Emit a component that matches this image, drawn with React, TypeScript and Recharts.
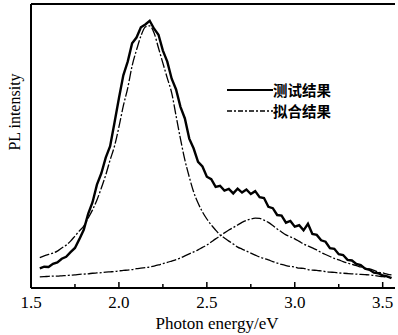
import React from 'react';
import { LineChart, Line, XAxis, YAxis, ReferenceLine } from 'recharts';

// photon energy (eV)
const energy = [
  1.55, 1.575, 1.6, 1.625, 1.65, 1.675, 1.7, 1.725, 1.75, 1.775,
  1.8, 1.825, 1.85, 1.875, 1.9, 1.925, 1.95, 1.975, 2.0, 2.025,
  2.05, 2.075, 2.1, 2.125, 2.15, 2.175, 2.2, 2.225, 2.25, 2.275,
  2.3, 2.325, 2.35, 2.375, 2.4, 2.425, 2.45, 2.475, 2.5, 2.525,
  2.55, 2.575, 2.6, 2.625, 2.65, 2.675, 2.7, 2.725, 2.75, 2.775,
  2.8, 2.825, 2.85, 2.875, 2.9, 2.925, 2.95, 2.975, 3.0, 3.025,
  3.05, 3.075, 3.1, 3.125, 3.15, 3.175, 3.2, 3.225, 3.25, 3.275,
  3.3, 3.325, 3.35, 3.375, 3.4, 3.425, 3.45, 3.475, 3.5, 3.525, 3.55,
];

// 测试结果
const measured = [
  0.069, 0.075, 0.074, 0.085, 0.09, 0.103, 0.11, 0.126, 0.141, 0.172,
  0.205, 0.261, 0.302, 0.364, 0.404, 0.459, 0.499, 0.583, 0.668, 0.749,
  0.797, 0.862, 0.882, 0.918, 0.928, 0.941, 0.913, 0.892, 0.836, 0.797,
  0.737, 0.699, 0.638, 0.597, 0.526, 0.491, 0.444, 0.428, 0.392, 0.383,
  0.356, 0.36, 0.343, 0.349, 0.333, 0.35, 0.336, 0.347, 0.331, 0.341,
  0.32, 0.317, 0.286, 0.281, 0.257, 0.255, 0.23, 0.236, 0.216, 0.221,
  0.203, 0.226, 0.19, 0.187, 0.168, 0.163, 0.14, 0.138, 0.119, 0.116,
  0.099, 0.097, 0.085, 0.081, 0.068, 0.064, 0.054, 0.052, 0.044, 0.041, 0.035,
];

// 拟合结果 - peak 1
const fit1 = [
  0.107, 0.113, 0.118, 0.123, 0.13, 0.141, 0.151, 0.165, 0.183, 0.201,
  0.218, 0.246, 0.275, 0.31, 0.352, 0.398, 0.451, 0.5, 0.567, 0.641,
  0.704, 0.782, 0.838, 0.887, 0.919, 0.923, 0.898, 0.845, 0.792, 0.739,
  0.687, 0.606, 0.525, 0.451, 0.391, 0.338, 0.299, 0.268, 0.243, 0.222,
  0.204, 0.187, 0.176, 0.165, 0.155, 0.144, 0.137, 0.13, 0.123, 0.116,
  0.109, 0.104, 0.099, 0.093, 0.088, 0.083, 0.079, 0.076, 0.074, 0.07,
  0.069, 0.065, 0.063, 0.062, 0.06, 0.058, 0.056, 0.055, 0.053, 0.052,
  0.051, 0.05, 0.049, 0.048, 0.047, 0.046, 0.044, 0.042, 0.04, 0.039, 0.037,
];

// 拟合结果 - peak 2
const fit2 = [
  0.039, 0.04, 0.041, 0.042, 0.042, 0.043, 0.044, 0.045, 0.046, 0.048,
  0.049, 0.05, 0.052, 0.053, 0.054, 0.056, 0.057, 0.058, 0.06, 0.062,
  0.063, 0.065, 0.068, 0.07, 0.072, 0.074, 0.077, 0.081, 0.086, 0.09,
  0.095, 0.1, 0.106, 0.113, 0.12, 0.127, 0.134, 0.143, 0.151, 0.162,
  0.173, 0.183, 0.194, 0.204, 0.213, 0.222, 0.231, 0.238, 0.243, 0.246,
  0.245, 0.239, 0.231, 0.22, 0.208, 0.197, 0.187, 0.18, 0.173, 0.164,
  0.155, 0.148, 0.141, 0.134, 0.125, 0.118, 0.111, 0.104, 0.099, 0.093,
  0.088, 0.083, 0.079, 0.074, 0.07, 0.067, 0.062, 0.056, 0.053, 0.049, 0.046,
];

const xTicks = [1.5, 1.75, 2.0, 2.25, 2.5, 2.75, 3.0, 3.25, 3.5];
const majorTicks = [1.5, 2.0, 2.5, 3.0, 3.5];

const data = energy.map((e, i) => ({
  e,
  measured: measured[i],
  fit1: fit1[i],
  fit2: fit2[i],
}));

const serif = '"Liberation Serif", "Times New Roman", serif';
const cjk = '"Noto Sans CJK SC", sans-serif';
const fitDash = '10 2 2 2';

const XTick = (props: any) => {
  const { x, y, payload } = props;
  const major = majorTicks.includes(payload.value);
  return (
    <g>
      <line x1={x} x2={x} y1={y} y2={y - (major ? 6 : 4)} stroke="#000" strokeWidth={1.5} />
      {major && (
        <text x={x} y={y + 20} textAnchor="middle" fontFamily={serif} fontSize={17} fill="#000">
          {payload.value.toFixed(1)}
        </text>
      )}
    </g>
  );
};

function LegendBox() {
  const row: React.CSSProperties = { display: 'flex', alignItems: 'center', height: 21 };
  return (
    <div
      style={{
        position: 'absolute',
        left: 227,
        top: 79,
        fontFamily: cjk,
        fontSize: 14.5,
        fontWeight: 700,
        color: '#000',
      }}
    >
      <div style={row}>
        <svg width={46} height={4}><line x1={0} x2={46} y1={2} y2={2} stroke="#000" strokeWidth={2} /></svg>
        <span>测试结果</span>
      </div>
      <div style={row}>
        <svg width={46} height={4}><line x1={0} x2={46} y1={2} y2={2} stroke="#000" strokeWidth={1.3} strokeDasharray="5 2 2 2" /></svg>
        <span>拟合结果</span>
      </div>
    </div>
  );
}

export default function App() {
  return (
    <div style={{ position: 'absolute', left: 0, top: 0, width: 398, height: 335, background: '#fff' }}>
      <LineChart width={398} height={335} data={data} margin={{ top: 4, right: 3, left: 0, bottom: 0 }}>
        <XAxis
          dataKey="e"
          type="number"
          domain={[1.5, 3.57]}
          ticks={xTicks}
          interval={0}
          height={47}
          tickSize={0}
          tickMargin={0}
          tick={<XTick />}
          axisLine={{ stroke: '#000', strokeWidth: 2 }}
          tickLine={false}
          label={{
            content: () => (
              <text x={217} y={329} textAnchor="middle" fontFamily={serif} fontSize={17} fill="#000">
                Photon energy/eV
              </text>
            ),
          }}
        />
        <YAxis
          type="number"
          domain={[0, 1]}
          width={31}
          tick={false}
          tickLine={false}
          axisLine={{ stroke: '#000', strokeWidth: 2 }}
          label={{
            content: () => (
              <text
                x={20}
                y={112}
                textAnchor="middle"
                transform="rotate(-90 20 112)"
                fontFamily={serif}
                fontSize={16}
                fill="#000"
              >
                PL intensity
              </text>
            ),
          }}
        />
        <ReferenceLine y={1} stroke="#000" strokeWidth={2} />
        <Line type="monotone" dataKey="fit1" stroke="#000" strokeWidth={1.3} strokeDasharray={fitDash} dot={false} isAnimationActive={false} />
        <Line type="monotone" dataKey="fit2" stroke="#000" strokeWidth={1.3} strokeDasharray={fitDash} dot={false} isAnimationActive={false} />
        <Line type="linear" dataKey="measured" stroke="#000" strokeWidth={2.4} dot={false} isAnimationActive={false} />
      </LineChart>
      <LegendBox />
    </div>
  );
}
